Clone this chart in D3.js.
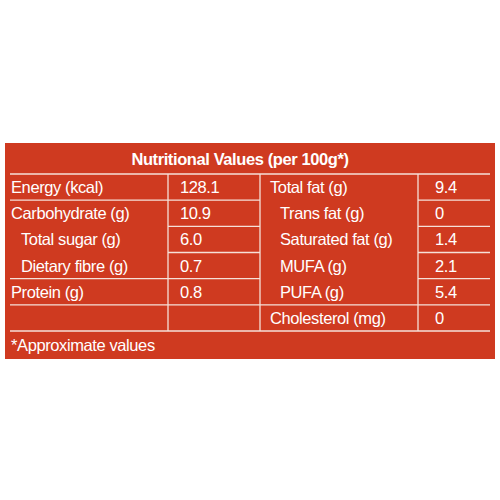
<!DOCTYPE html><html><head><script src="https://cdn.jsdelivr.net/npm/d3@7"></script>
<style>body{margin:0;background:#fff}</style></head><body><svg width="500" height="500"></svg>
<script>
const leftLabels=["Energy (kcal)","Carbohydrate (g)","  Total sugar (g)","  Dietary fibre (g)","Protein (g)",""];
const leftValues=["128.1","10.9","6.0","0.7","0.8",""];
const leftIndent=[0,0,1,1,0,0];
const rightLabels=["Total fat (g)","Trans fat (g)","Saturated fat (g)","MUFA (g)","PUFA (g)","Cholesterol (mg)"];
const rightValues=["9.4","0","1.4","2.1","5.4","0"];
const rightIndent=[0,1,1,1,1,0];
const title="Nutritional Values (per 100g*)";
const footer="*Approximate values";
const svg=d3.select("svg");
const red="#cf3a20";
svg.append("rect").attr("x",5).attr("y",143).attr("width",490).attr("height",216).attr("fill",red);
const y=d3.scaleLinear().domain([0,6]).range([174,331]);
const rh=y(1)-y(0);
const W="#f6e0d8";
const line=(x1,x2,yy)=>svg.append("line").attr("x1",x1).attr("x2",x2).attr("y1",yy).attr("y2",yy).attr("stroke",W).attr("stroke-width",1.3);
const vline=(x,y1,y2)=>svg.append("line").attr("x1",x).attr("x2",x).attr("y1",y1).attr("y2",y2).attr("stroke",W).attr("stroke-width",1.3);
[0,1,4,5,6].forEach(i=>line(10,260,y(i)));
[2,3].forEach(i=>line(168,260,y(i)));
[0,5,6].forEach(i=>line(260,490,y(i)));
[1,2,3,4].forEach(i=>line(418,490,y(i)));
vline(168,y(0),y(6));vline(260,y(0),y(6));vline(418,y(0),y(6));
const txt=(x,yy,s,opt={})=>svg.append("text").attr("x",x).attr("y",yy).attr("fill","#fff").attr("font-family","Liberation Sans, Arial, sans-serif").attr("font-size",opt.size||16.5).attr("font-weight",opt.bold?"bold":"normal").attr("text-anchor",opt.anchor||"start").attr("dominant-baseline","central").attr("letter-spacing",-0.4).text(s);
txt(240,159,title,{bold:true,size:16.5,anchor:"middle"});
leftLabels.forEach((s,i)=>{txt(11+leftIndent[i]*10,y(i)+rh/2,s.trim());txt(180,y(i)+rh/2,leftValues[i]);});
rightLabels.forEach((s,i)=>{txt(270+rightIndent[i]*10,y(i)+rh/2,s);txt(435,y(i)+rh/2,rightValues[i]);});
txt(11,345,footer);
</script></body></html>
